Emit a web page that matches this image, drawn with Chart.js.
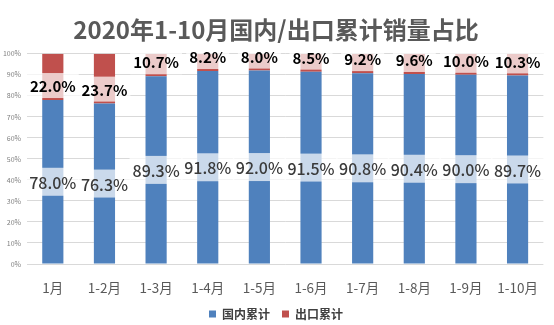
<!DOCTYPE html>
<html>
<head>
<meta charset="utf-8">
<script src="https://cdn.jsdelivr.net/npm/chart.js@4/dist/chart.umd.min.js"></script>
<style>
  html, body { margin: 0; padding: 0; background: #ffffff; }
  #wrap { width: 554px; height: 325px; position: relative; }
</style>
</head>
<body>
<div id="wrap"><canvas id="c" width="554" height="325"></canvas></div>
<script>
const categories = ['1月', '1-2月', '1-3月', '1-4月', '1-5月', '1-6月', '1-7月', '1-8月', '1-9月', '1-10月'];
const domesticShare = [78.0, 76.3, 89.3, 91.8, 92.0, 91.5, 90.8, 90.4, 90.0, 89.7];
const exportShare = [22.0, 23.7, 10.7, 8.2, 8.0, 8.5, 9.2, 9.6, 10.0, 10.3];
const seriesNames = ['国内累计', '出口累计'];
const titleText = '2020年1-10月国内/出口累计销量占比';

const FONT = '"Noto Sans CJK SC", "Noto Sans", sans-serif';

const labelPlugin = {
  id: 'segLabels',
  afterDatasetsDraw(chart) {
    const ctx = chart.ctx;
    chart.data.datasets.forEach((ds, di) => {
      const meta = chart.getDatasetMeta(di);
      meta.data.forEach((bar, i) => {
        const txt = ds.data[i].toFixed(1) + '%';
        const top = Math.min(bar.y, bar.base);
        const bottom = Math.max(bar.y, bar.base);
        ctx.save();
        let cy, h;
        if (di === 0) {
          ctx.font = '500 16px ' + FONT;
          h = 28;
          cy = (top + bottom) / 2;
        } else {
          ctx.font = 'bold 15px ' + FONT;
          h = 25;
          cy = bottom - 2 - h / 2;
        }
        const w = ctx.measureText(txt).width + 6;
        ctx.fillStyle = 'rgba(255,255,255,0.7)';
        ctx.fillRect(bar.x - w / 2, cy - h / 2, w, h);
        ctx.fillStyle = di === 0 ? '#3A3A3A' : '#000000';
        ctx.textAlign = 'center';
        ctx.textBaseline = 'middle';
        ctx.fillText(txt, bar.x, cy + 1);
        ctx.restore();
      });
    });
  }
};

new Chart(document.getElementById('c'), {
  type: 'bar',
  data: {
    labels: categories,
    datasets: [
      { label: seriesNames[0], data: domesticShare, backgroundColor: '#4F81BD',
        categoryPercentage: 1, barPercentage: 0.41 },
      { label: seriesNames[1], data: exportShare, backgroundColor: '#C0504D',
        categoryPercentage: 1, barPercentage: 0.41 }
    ]
  },
  options: {
    responsive: false,
    animation: false,
    devicePixelRatio: 1,
    layout: { padding: { left: 0, right: 2, top: 0, bottom: -5 } },
    plugins: {
      title: {
        display: true,
        text: titleText,
        color: '#595959',
        font: { family: FONT, size: 24, weight: 'bold' },
        padding: { top: 15, bottom: 10 }
      },
      legend: {
        position: 'bottom',
        labels: {
          boxWidth: 7, boxHeight: 7,
          padding: 12,
          color: '#404040',
          font: { family: FONT, size: 12, weight: 'bold' }
        }
      },
      tooltip: { enabled: false }
    },
    scales: {
      x: {
        stacked: true,
        grid: { display: false, drawTicks: false },
        border: { display: false },
        ticks: { color: '#595959', font: { family: FONT, size: 13.5 }, padding: 16, maxRotation: 0 },
        afterFit: s => { s.height = 32; }
      },
      y: {
        stacked: true,
        min: 0, max: 100,
        border: { display: false },
        grid: { color: '#D9D9D9', lineWidth: 1, drawTicks: false },
        ticks: { stepSize: 10, color: '#7F7F7F', font: { family: FONT, size: 7 }, padding: 6,
                 callback: v => v + '%' },
        afterFit: s => { s.width = 27; }
      }
    }
  },
  plugins: [labelPlugin]
});
</script>
</body>
</html>
